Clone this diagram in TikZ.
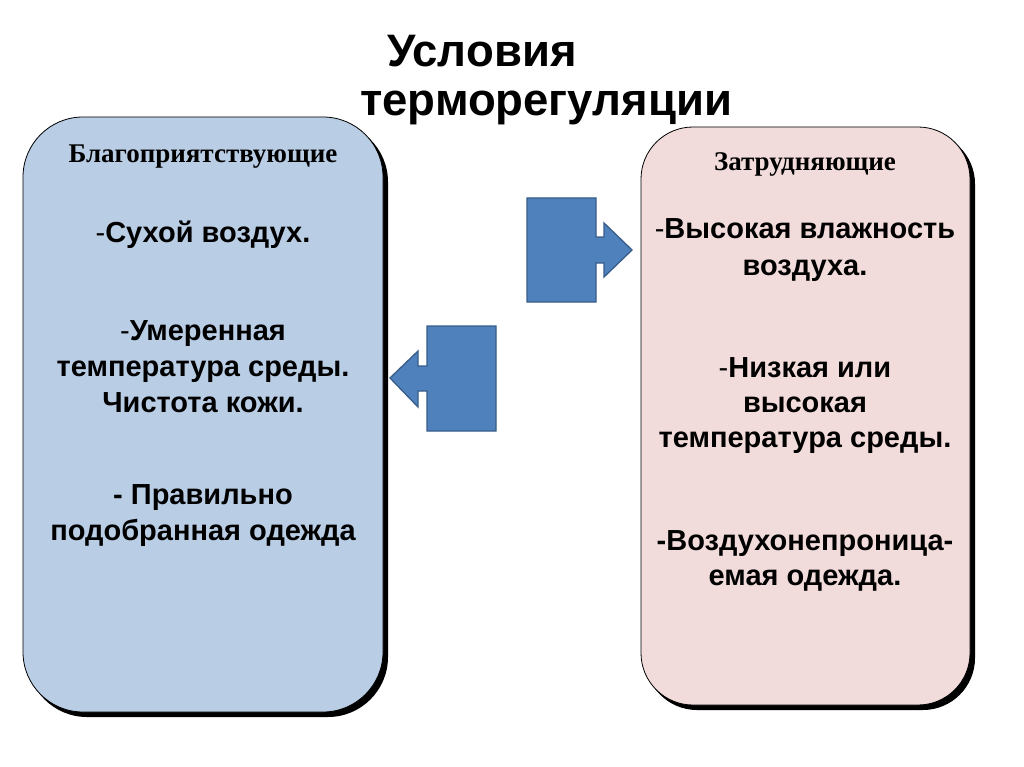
\documentclass[tikz,border=0pt]{standalone}
\usepackage{fontspec}
\setmainfont{Liberation Serif}
\newfontfamily\arialfont{Liberation Sans}
\usetikzlibrary{positioning}
\definecolor{GoodBlue}{HTML}{B9CDE5}
\definecolor{BadPink}{HTML}{F2DCDB}
\definecolor{ArrowFill}{HTML}{4F81BD}
\definecolor{ArrowLine}{HTML}{385D8A}

\begin{document}
\begin{tikzpicture}[x=1pt,y=-1pt,
  panel/.style={draw=black,line width=0.8pt},
  shade/.style={fill=black},
  headtxt/.style={anchor=base,inner sep=0pt,font=\bfseries\fontsize{27}{31}\selectfont},
  itemtxt/.style={anchor=base,inner sep=0pt,font=\arialfont\bfseries\fontsize{29}{34}\selectfont},
  titletxt/.style={anchor=base west,inner sep=0pt,font=\arialfont\bfseries\fontsize{45.5}{50}\selectfont},
  blockarrow/.style={fill=ArrowFill,draw=ArrowLine,line width=1.3pt,line join=miter}]
  \useasboundingbox[fill=white] (0,0) rectangle (1024,767);

  % title, second line starts further left
  \node[titletxt] (title1) at (387,67) {Условия};
  \node[titletxt] (title2) at (360,116) {терморегуляции};

  % left panel with its shadow
  \fill[shade,rounded corners=60pt] (27,122) rectangle (388,717);
  \draw[panel,fill=GoodBlue,rounded corners=60pt] (23,117) rectangle (383,712);
  \node[headtxt] (good) at (203,163) {Благоприятствующие};
  \node[itemtxt] (g1) at (203,242) {{\mdseries-}Сухой воздух.};
  \node[itemtxt] (g2) at (203,340) {{\mdseries-}Умеренная};
  \node[itemtxt] (g3) at (203,376) {температура среды.};
  \node[itemtxt] (g4) at (203,412) {Чистота кожи.};
  \node[itemtxt] (g5) at (203,504) {- Правильно};
  \node[itemtxt] (g6) at (203,540) {подобранная одежда};

  % right panel with its shadow
  \fill[shade,rounded corners=52pt] (645,132) rectangle (975,710);
  \draw[panel,fill=BadPink,rounded corners=52pt] (641,127) rectangle (970,705);
  \node[headtxt] (bad) at (805,171) {Затрудняющие};
  \node[itemtxt] (b1) at (805,239) {{\mdseries-}Высокая влажность};
  \node[itemtxt] (b2) at (805,275) {воздуха.};
  \node[itemtxt] (b3) at (805,377) {{\mdseries-}Низкая или};
  \node[itemtxt] (b4) at (805,412) {высокая};
  \node[itemtxt] (b5) at (805,447) {температура среды.};
  \node[itemtxt] (b6) at (805,550) {-Воздухонепроница-};
  \node[itemtxt] (b7) at (805,585) {емая одежда.};

  % block arrows between the panels
  \draw[blockarrow] (527,198) -- (596,198) -- (596,237) -- (604,237) -- (604,223)
    -- (632,250) -- (604,277) -- (604,263) -- (596,263) -- (596,302) -- (527,302) -- cycle;
  \draw[blockarrow] (496,326) -- (427,326) -- (427,366) -- (418,366) -- (418,351)
    -- (390,378) -- (418,407) -- (418,391) -- (427,391) -- (427,431) -- (496,431) -- cycle;
\end{tikzpicture}
\end{document}
